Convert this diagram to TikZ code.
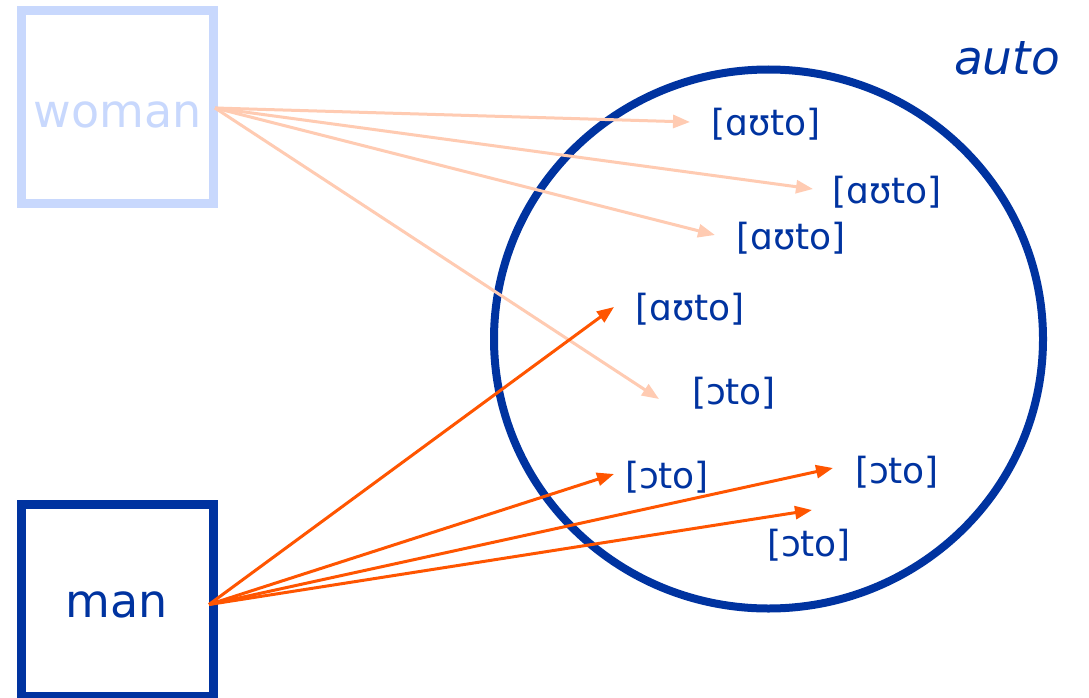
\documentclass[tikz,border=0pt]{standalone}
\usepackage{fontspec}
\setmainfont{DejaVu Sans}
\usetikzlibrary{arrows.meta,shapes.geometric}
\definecolor{lightblue}{HTML}{C8D8FD}
\definecolor{darkblue}{HTML}{0033A0}
\definecolor{lightorange}{HTML}{FFCBB2}
\definecolor{orangered}{HTML}{FF5500}
\tikzset{
  personbox/.style={draw, line width=9pt, minimum width=192pt, minimum height=192pt, inner sep=0pt},
  pron/.style={text=darkblue, font=\fontsize{36}{40}\selectfont, inner sep=0pt, anchor=center},
  bigword/.style={font=\fontsize{46}{52}\selectfont, inner sep=0pt, anchor=base},
  womanarrow/.style={draw=lightorange, line width=3pt, -{Triangle[length=17pt,width=13pt]}},
  manarrow/.style={draw=orangered, line width=3pt, -{Triangle[length=17pt,width=13pt]}},
}
\begin{document}
\begin{tikzpicture}[x=1pt,y=-1pt]
\useasboundingbox[fill=white] (0,0) rectangle (1089,698);
% boxes
\node[personbox, draw=lightblue] (womanbox) at (117.5,107) {};
\node[personbox, draw=darkblue] (manbox) at (117.5,600.5) {};
\node[bigword, text=lightblue] (womantext) at (117.5,128) {woman};
\node[bigword, text=darkblue] (mantext) at (116.5,617) {man};
% circle
\node[draw=darkblue, line width=8pt, ellipse, minimum width=549pt, minimum height=539pt, inner sep=0pt] (circ) at (768.5,339) {};
\node[bigword, text=darkblue, font=\fontsize{47}{52}\selectfont\itshape] (autolabel) at (1007,75) {auto};
% pronunciations
\node[pron] (p1) at (766,124.5) {[ɑʊto]};
\node[pron] (p2) at (887,192) {[ɑʊto]};
\node[pron] (p3) at (791,238.5) {[ɑʊto]};
\node[pron] (p4) at (690,309.5) {[ɑʊto]};
\node[pron] (p5) at (734,393) {[ɔto]};
\node[pron] (p6) at (667,477.5) {[ɔto]};
\node[pron] (p7) at (897,472.5) {[ɔto]};
\node[pron] (p8) at (809,545.5) {[ɔto]};
% sources and arrow ends
\coordinate (ws) at (215,108);
\coordinate (ms) at (209,604.5);
\coordinate (t1) at (690,122);
\coordinate (t2) at (813,189);
\coordinate (t3) at (715,235);
\coordinate (t4) at (659,399);
\coordinate (u1) at (614,307);
\coordinate (u2) at (614,474);
\coordinate (u3) at (833,468);
\coordinate (u4) at (812,510);
\draw[womanarrow] (ws) -- (t1);
\draw[womanarrow] (ws) -- (t2);
\draw[womanarrow] (ws) -- (t3);
\draw[womanarrow] (ws) -- (t4);
\draw[manarrow] (ms) -- (u1);
\draw[manarrow] (ms) -- (u2);
\draw[manarrow] (ms) -- (u3);
\draw[manarrow] (ms) -- (u4);
\end{tikzpicture}
\end{document}
